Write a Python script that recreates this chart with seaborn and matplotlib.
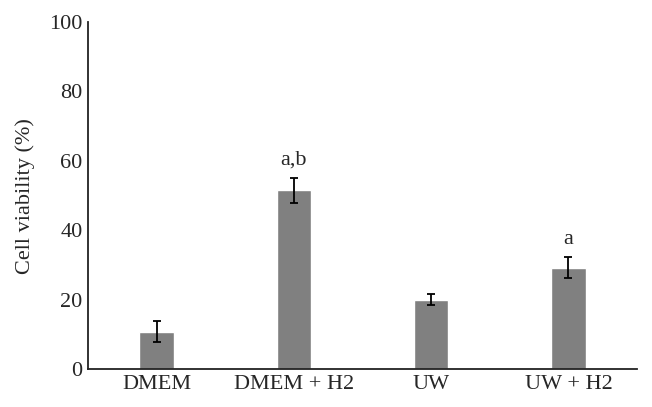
import pandas as pd
import matplotlib.pyplot as plt
import seaborn as sns

# values
groups = ['DMEM', 'DMEM + H2', 'UW', 'UW + H2']
viability = [10.8, 51.5, 20.0, 29.2]
sd = [3.0, 3.5, 1.6, 3.0]
letters = ['', 'a,b', '', 'a']

df = pd.DataFrame({'group': groups, 'viability': viability})

sns.set_style('white')
plt.rcParams['font.family'] = ['Liberation Serif', 'DejaVu Serif']

fig = plt.figure(figsize=(6.52, 4.07), dpi=100)
ax = fig.add_axes([0.135, 0.093, 0.842, 0.853])

sns.barplot(data=df, x='group', y='viability', color='#808080',
            saturation=1, width=0.25, ax=ax)

ax.errorbar(range(len(groups)), viability, yerr=sd, fmt='none',
            ecolor='black', elinewidth=1.3, capsize=3, capthick=1.3)

for i, lab in enumerate(letters):
    if lab:
        ax.text(i, viability[i] + sd[i] + 2.5, lab, ha='center', va='bottom',
                fontsize=16)

ax.set_xlim(-0.5, 3.5)
ax.set_ylim(0, 100)
ax.set_yticks(range(0, 101, 20))
ax.set_xlabel('')
ax.set_ylabel('Cell viability (%)', fontsize=16, labelpad=10)
ax.tick_params(axis='both', labelsize=16, length=0, pad=4)

sns.despine(ax=ax)
ax.spines['left'].set_color('#222222')
ax.spines['bottom'].set_color('#222222')
ax.spines['left'].set_linewidth(1.3)
ax.spines['bottom'].set_linewidth(1.3)

fig.savefig('out.png', dpi=100)
